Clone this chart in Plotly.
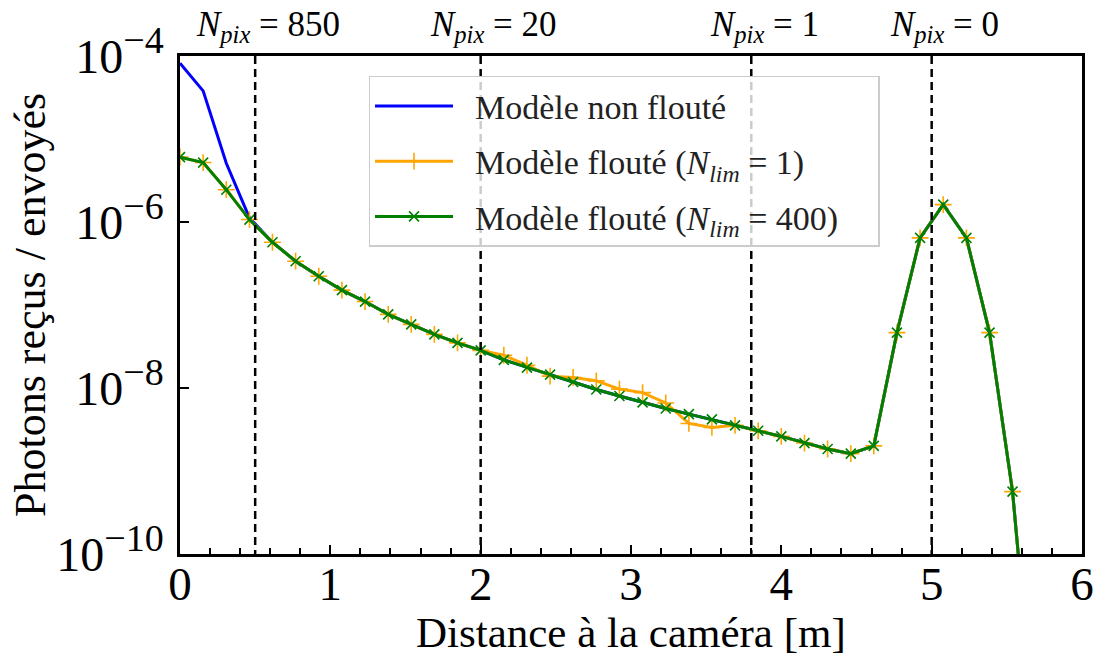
import plotly.graph_objects as go

# ---- data ----
distance_m = [0.0, 0.154, 0.308, 0.462, 0.615, 0.769, 0.923, 1.077, 1.231, 1.385,
              1.538, 1.692, 1.846, 2.0, 2.154, 2.308, 2.462, 2.615, 2.769, 2.923,
              3.077, 3.231, 3.385, 3.538, 3.692, 3.846, 4.0, 4.154, 4.308, 4.462,
              4.615, 4.769, 4.923, 5.077, 5.231, 5.385, 5.538, 5.692]

non_floute = [8.2e-5, 3.8e-5, 5.1e-6, 1.12e-6, 5.7e-7, 3.37e-7, 2.22e-7, 1.51e-7, 1.10e-7, 7.7e-8,
              5.85e-8, 4.43e-8, 3.5e-8, 2.84e-8, 2.18e-8, 1.76e-8, 1.45e-8, 1.18e-8, 9.6e-9, 8.0e-9,
              6.7e-9, 5.67e-9, 4.84e-9, 4.18e-9, 3.55e-9, 3.05e-9, 2.61e-9, 2.17e-9, 1.84e-9, 1.62e-9,
              2.01e-9, 4.65e-8, 6.44e-7, 1.62e-6, 6.44e-7, 4.65e-8, 5.64e-10, 5e-13]

floute_nlim1 = [6.05e-6, 5.2e-6, 2.45e-6, 1.07e-6, 5.7e-7, 3.37e-7, 2.22e-7, 1.51e-7, 1.10e-7, 7.7e-8,
                5.85e-8, 4.43e-8, 3.5e-8, 2.84e-8, 2.48e-8, 1.88e-8, 1.39e-8, 1.34e-8, 1.22e-8, 9.7e-9,
                8.8e-9, 6.6e-9, 3.74e-9, 3.35e-9, 3.55e-9, 3.05e-9, 2.61e-9, 2.17e-9, 1.84e-9, 1.62e-9,
                2.01e-9, 4.65e-8, 6.44e-7, 1.62e-6, 6.44e-7, 4.65e-8, 5.64e-10, 5e-13]

floute_nlim400 = [6.05e-6, 5.2e-6, 2.45e-6, 1.07e-6, 5.7e-7, 3.37e-7, 2.22e-7, 1.51e-7, 1.10e-7, 7.7e-8,
                  5.85e-8, 4.43e-8, 3.5e-8, 2.84e-8, 2.18e-8, 1.76e-8, 1.45e-8, 1.18e-8, 9.6e-9, 8.0e-9,
                  6.7e-9, 5.67e-9, 4.84e-9, 4.18e-9, 3.55e-9, 3.05e-9, 2.61e-9, 2.17e-9, 1.84e-9, 1.62e-9,
                  2.01e-9, 4.65e-8, 6.44e-7, 1.62e-6, 6.44e-7, 4.65e-8, 5.64e-10, 5e-13]

npix_positions = [0.5, 2.0, 3.8, 5.0]
npix_labels = ["850", "20", "1", "0"]

x_tickvals = [0, 1, 2, 3, 4, 5, 6]
y_tickvals = [1e-10, 1e-8, 1e-6, 1e-4]
y_exponents = ["\u221210", "\u22128", "\u22126", "\u22124"]
y_ticktext = [f"10<sup><span style='font-size:38px'>{e}</span></sup>" for e in y_exponents]

FONT = "Liberation Serif, Times New Roman, serif"
SP = "\u2002"

fig = go.Figure()
fig.add_trace(go.Scatter(x=distance_m, y=non_floute, mode="lines",
                         line=dict(color="blue", width=3),
                         name=SP + "Modèle non flouté", legendgroup="a"))
fig.add_trace(go.Scatter(x=distance_m, y=floute_nlim1, mode="lines+markers",
                         line=dict(color="orange", width=3),
                         marker=dict(symbol="cross-thin", size=12, color="orange",
                                     line=dict(color="orange", width=1.6)),
                         name=SP + "Modèle flouté (<i>N</i><sub><i>lim</i></sub> = 1)", legendgroup="b"))
fig.add_trace(go.Scatter(x=distance_m, y=floute_nlim400, mode="lines+markers",
                         line=dict(color="green", width=3),
                         marker=dict(symbol="x-thin", size=10, color="green",
                                     line=dict(color="green", width=1.6)),
                         name=SP + "Modèle flouté (<i>N</i><sub><i>lim</i></sub> = 400)" + SP + SP,
                         legendgroup="c"))

# vertical dashed lines + labels
for xp, lab in zip(npix_positions, npix_labels):
    fig.add_shape(type="line", xref="x", yref="paper", x0=xp, x1=xp, y0=1, y1=0,
                  line=dict(color="black", width=2.5, dash="8px,5px"), layer="above")
    fig.add_annotation(x=xp, xref="x", y=1, yref="paper", yanchor="bottom",
                       xanchor="center", xshift=13, yshift=6, showarrow=False,
                       text=f"<i>N</i><sub><i>pix</i></sub> = {lab}",
                       font=dict(family=FONT, size=35, color="black"))

# axis titles
fig.add_annotation(x=0.5, xref="paper", y=0, yref="paper", yanchor="top", yshift=-53,
                   showarrow=False, text="Distance à la caméra [m]",
                   font=dict(family=FONT, size=43, color="black"))
fig.add_annotation(x=0, xref="paper", y=0.5, yref="paper", xanchor="center", xshift=-150,
                   showarrow=False, textangle=-90, text="Photons reçus / envoyés",
                   font=dict(family=FONT, size=44, color="black"))

fig.update_layout(
    width=1106, height=659,
    margin=dict(l=180, r=18, t=56, b=105),
    paper_bgcolor="white", plot_bgcolor="white",
    font=dict(family=FONT, color="black"),
    showlegend=True,
    legend=dict(x=0.209, y=0.96, xanchor="left", yanchor="top",
                bgcolor="rgba(255,255,255,0.8)", bordercolor="#cccccc", borderwidth=1.5,
                font=dict(family=FONT, size=34, color="#222222"),
                itemwidth=78, tracegroupgap=8),
    xaxis=dict(range=[0, 6], showgrid=False, zeroline=False,
               showline=True, linecolor="black", linewidth=2.5, mirror=True,
               ticks="inside", ticklen=9, tickwidth=2, tickcolor="black",
               tickvals=x_tickvals, ticklabelstandoff=-13,
               tickfont=dict(family=FONT, size=47, color="black"),
               minor=dict(ticks="inside", ticklen=6, tickwidth=1.8, tickcolor="black", dtick=0.2)),
    yaxis=dict(type="log", range=[-10, -4], showgrid=False, zeroline=False,
               showline=True, linecolor="black", linewidth=2.5, mirror=True,
               ticks="inside", ticklen=9, tickwidth=2, tickcolor="black",
               tickvals=y_tickvals, ticktext=y_ticktext, ticklabelstandoff=4,
               tickfont=dict(family=FONT, size=48, color="black")),
)

fig.write_html("out.html", config={"displayModeBar": False},
               post_script="document.body.style.margin='0';document.body.style.overflow='hidden';")
